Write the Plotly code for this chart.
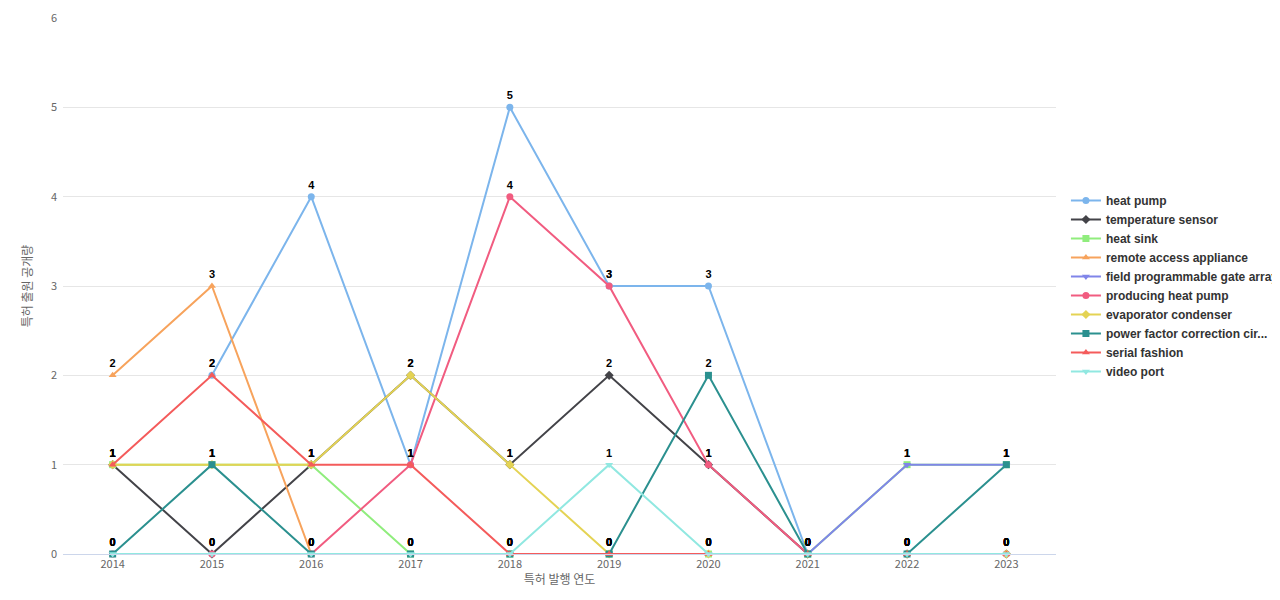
import plotly.graph_objects as go

years = [2014, 2015, 2016, 2017, 2018, 2019, 2020, 2021, 2022, 2023]
names = ["heat pump", "temperature sensor", "heat sink", "remote access appliance",
         "field programmable gate array", "producing heat pump", "evaporator condenser",
         "power factor correction cir...", "serial fashion", "video port"]
values = [
    [None, 2, 4, 1, 5, 3, 3, 0, 0, 0],
    [1, 0, 1, 2, 1, 2, 1, 0, 0, 0],
    [1, 1, 1, 0, 0, 0, 0, 0, 1, 1],
    [2, 3, 0, 0, 0, 0, 0, 0, 0, 0],
    [0, 0, 0, 0, 0, 0, 0, 0, 1, 1],
    [0, 0, 0, 1, 4, 3, 1, 0, 0, 0],
    [1, 1, 1, 2, 1, 0, 0, 0, 0, 0],
    [0, 1, 0, 0, 0, 0, 2, 0, 0, 1],
    [1, 2, 1, 1, 0, 0, 0, 0, 0, 0],
    [0, 0, 0, 0, 0, 1, 0, 0, 0, 0],
]
colors = ["#7cb5ec", "#434348", "#90ed7d", "#f7a35c", "#8085e9",
          "#f15c80", "#e4d354", "#2b908f", "#f45b5b", "#91e8e1"]
symbols = ["circle", "diamond", "square", "triangle-up", "triangle-down",
           "circle", "diamond", "square", "triangle-up", "triangle-down"]

fig = go.Figure()
for n, v, c, s in zip(names, values, colors, symbols):
    fig.add_trace(go.Scatter(
        x=years, y=v, name=n, mode="lines+markers+text",
        line=dict(color=c, width=2), marker=dict(color=c, symbol=s, size=7),
        text=["" if t is None else "<b>%d</b>" % t for t in v], textposition="top center",
        textfont=dict(color="black", size=11, family="Arial"),
        cliponaxis=False))

fig.update_layout(
    width=1280, height=600, paper_bgcolor="white", plot_bgcolor="white",
    margin=dict(l=55, r=232, t=10, b=54, autoexpand=False),
    font=dict(family="Noto Sans CJK KR, Arial", size=11, color="#666666"),
    legend=dict(x=1.01, y=0.5, yanchor="middle", tracegroupgap=0,
                font=dict(size=12, color="#333333", family="Arial"),
                itemwidth=30, entrywidthmode="pixels"),
    xaxis=dict(tickvals=years, showgrid=False, showline=True, linecolor="#ccd6eb",
               title=dict(text="특허 발행 연도", font=dict(size=12, color="#666666"), standoff=5),
               range=[2013.5, 2023.5]),
    yaxis=dict(range=[0, 6], dtick=1, gridcolor="#e6e6e6", zeroline=False, ticksuffix="  ",
               title=dict(text="특허 출원 공개량", font=dict(size=12, color="#666666"))),
)
fig.for_each_trace(lambda t: t.update(name="<b>%s</b>" % t.name))
fig.write_html("out.html")
